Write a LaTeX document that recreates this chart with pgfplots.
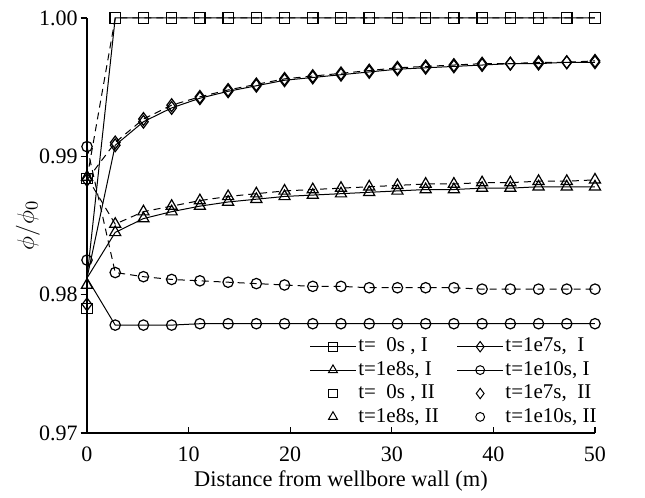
\documentclass[border=0pt]{standalone}
\usepackage{pgfplots}
\pgfplotsset{compat=1.18}
\usepackage{pgfplotstable}
\usepackage{fontspec}
\setmainfont{Liberation Serif}

% distance (m), solid = case I, dashed = case II
\pgfplotstableread{
x      I0     I7     I8     I10    II0    II7    II8    II10
0      0.9812 0.9812 0.9812 0.9812 0.9884 0.9883 0.9885 0.9907
2.778  1.0000 0.9908 0.9845 0.9778 1.0000 0.9910 0.9851 0.9816
5.556  1.0000 0.9925 0.9855 0.9778 1.0000 0.9927 0.9860 0.9813
8.333  1.0000 0.9935 0.9860 0.9778 1.0000 0.9937 0.9864 0.9811
11.111 1.0000 0.9942 0.9864 0.9779 1.0000 0.9943 0.9868 0.9810
13.889 1.0000 0.9947 0.9867 0.9779 1.0000 0.9948 0.9871 0.9809
16.667 1.0000 0.9951 0.9869 0.9779 1.0000 0.9952 0.9873 0.9808
19.444 1.0000 0.9955 0.9871 0.9779 1.0000 0.9956 0.9875 0.9807
22.222 1.0000 0.9957 0.9872 0.9779 1.0000 0.9958 0.9876 0.9806
25     1.0000 0.9959 0.9873 0.9779 1.0000 0.9960 0.9877 0.9806
27.778 1.0000 0.9961 0.9874 0.9779 1.0000 0.9962 0.9878 0.9805
30.556 1.0000 0.9963 0.9875 0.9779 1.0000 0.9964 0.9879 0.9805
33.333 1.0000 0.9964 0.9876 0.9779 1.0000 0.9965 0.9880 0.9805
36.111 1.0000 0.9965 0.9876 0.9779 1.0000 0.9966 0.9880 0.9805
38.889 1.0000 0.9966 0.9877 0.9779 1.0000 0.9967 0.9881 0.9804
41.667 1.0000 0.9967 0.9877 0.9779 1.0000 0.9967 0.9881 0.9804
44.444 1.0000 0.9967 0.9878 0.9779 1.0000 0.9968 0.9882 0.9804
47.222 1.0000 0.9968 0.9878 0.9779 1.0000 0.9968 0.9882 0.9804
50     1.0000 0.9968 0.9878 0.9779 1.0000 0.9969 0.9883 0.9804
}\data

% case I markers at the wall
\pgfplotstableread{
x  y
0  0.9790
}\wallsq
\pgfplotstableread{
x  y
0  0.9793
}\walldia
\pgfplotstableread{
x  y
0  0.9807
}\walltri
\pgfplotstableread{
x  y
0  0.9825
}\wallcirc

\begin{document}
\begin{tikzpicture}
\begin{axis}[
    scale only axis,
    width=254pt, height=207.5pt,
    xmin=0, xmax=50, ymin=0.97, ymax=1.00,
    xtick={0,10,...,50}, ytick={0.97,0.98,0.99,1.00},
    axis x line*=bottom, axis y line*=left,
    axis line style={-, line width=0.6pt},
    tick align=outside, major tick length=3.2pt,
    tick style={line width=0.6pt, black},
    major x tick style={yshift=3.2pt},
    yticklabel style={inner xsep=1.3pt, /pgf/number format/.cd, fixed, fixed zerofill, precision=2},
    /pgf/number format/assume math mode=true,
    tick label style={font=\fontsize{11}{13}\selectfont},
    xlabel={Distance from wellbore wall (m)},
    ylabel={$\phi/\phi_0$},
    xlabel style={font=\fontsize{11.2}{13}\selectfont, at={(rel axis cs:0.5,0)},
        anchor=center, yshift=-24pt},
    ylabel style={font=\fontsize{13}{15}\selectfont, at={(rel axis cs:0,0.5)},
        anchor=center, yshift=29.5pt},
    every axis plot/.append style={black, line width=0.5pt,
        mark options={solid, fill=none, line width=0.6pt}, mark size=2.6pt},
    legend style={draw=none, fill=none, at={(1,0)}, anchor=south east,
        xshift=2pt, yshift=2pt, inner sep=0pt,
        font=\fontsize{10.5}{12}\selectfont,
        nodes={inner sep=1pt, text height=7.5pt, text depth=2.2pt},
        /tikz/every even column/.append style={column sep=8pt}},
    legend columns=2, legend cell align=left,
    legend image code/.code={\draw[mark repeat=2, mark phase=2, #1]
        plot coordinates {(0cm,0cm) (0.4cm,0cm) (0.8cm,0cm)};},
    clip=false,
]
\coordinate (o) at (rel axis cs:0,0);

% case I (solid)
\addplot[mark=square, mark indices={2,...,19}, forget plot] table[x=x, y=I0] {\data};
\addplot[mark=diamond, mark size=3.2pt, mark indices={2,...,19}, forget plot] table[x=x, y=I7] {\data};
\addplot[mark=triangle, mark size=3.2pt, mark indices={2,...,19}, forget plot] table[x=x, y=I8] {\data};
\addplot[mark=o, mark indices={2,...,19}, forget plot] table[x=x, y=I10] {\data};
\addplot[only marks, mark=square, forget plot] table {\wallsq};
\addplot[only marks, mark=diamond, mark size=3.2pt, forget plot] table {\walldia};
\addplot[only marks, mark=triangle, mark size=3.2pt, forget plot] table {\walltri};
\addplot[only marks, mark=o, forget plot] table {\wallcirc};

% case II (dashed)
\addplot[dash pattern=on 3.5pt off 2.5pt, mark=square, forget plot] table[x=x, y=II0] {\data};
\addplot[dash pattern=on 3.5pt off 2.5pt, mark=diamond, mark size=3.2pt, forget plot] table[x=x, y=II7] {\data};
\addplot[dash pattern=on 3.5pt off 2.5pt, mark=triangle, mark size=3.2pt, forget plot] table[x=x, y=II8] {\data};
\addplot[dash pattern=on 3.5pt off 2.5pt, mark=o, forget plot] table[x=x, y=II10] {\data};

\addlegendimage{black, line width=0.5pt, mark=square, mark size=2.2pt, mark options={fill=none}}
\addlegendentry{t=\ \ 0s\ , I}
\addlegendimage{black, line width=0.5pt, mark=diamond, mark size=2.6pt, mark options={fill=none}}
\addlegendentry{t=1e7s,\ \ I}
\addlegendimage{black, line width=0.5pt, mark=triangle, mark size=2.6pt, mark options={fill=none}}
\addlegendentry{t=1e8s, I}
\addlegendimage{black, line width=0.5pt, mark=o, mark size=2.2pt, mark options={fill=none}}
\addlegendentry{t=1e10s, I}
\addlegendimage{only marks, black, mark=square, mark size=2.2pt, mark options={fill=none}}
\addlegendentry{t=\ \ 0s\ , II}
\addlegendimage{only marks, black, mark=diamond, mark size=2.6pt, mark options={fill=none}}
\addlegendentry{t=1e7s,\ \ II}
\addlegendimage{only marks, black, mark=triangle, mark size=2.6pt, mark options={fill=none}}
\addlegendentry{t=1e8s, II}
\addlegendimage{only marks, black, mark=o, mark size=2.2pt, mark options={fill=none}}
\addlegendentry{t=1e10s, II}
\end{axis}
\path[use as bounding box] (o) ++(-43.5pt,-28.5pt) rectangle ++(322.5pt,245pt);
\end{tikzpicture}
\end{document}
